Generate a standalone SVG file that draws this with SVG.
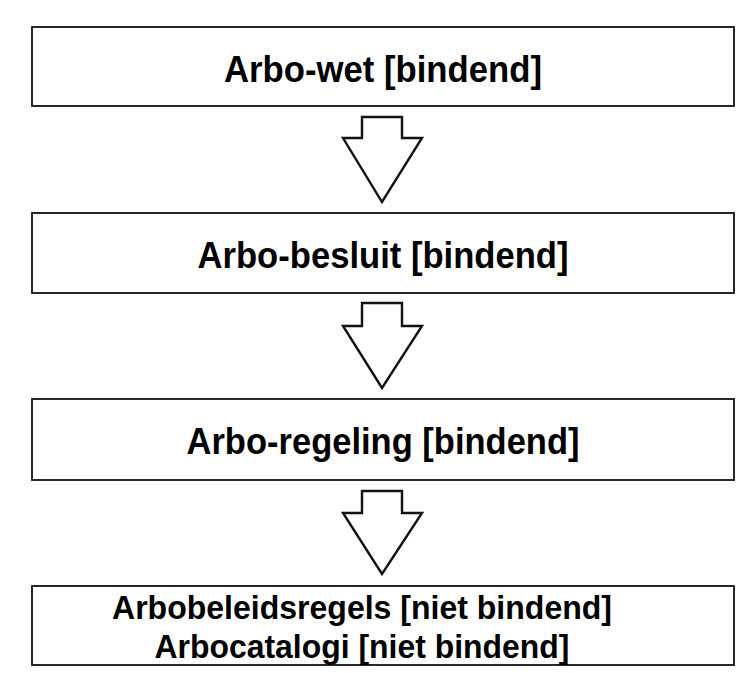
<svg xmlns="http://www.w3.org/2000/svg" width="739" height="673" viewBox="0 0 739 673">
<style>
.box{fill:#fff;stroke:#111;stroke-width:1.8}
.arr{fill:#fff;stroke:#111;stroke-width:2.4;stroke-linejoin:miter}
.t{font-family:"Liberation Sans",Arial,Helvetica,sans-serif;font-weight:bold;fill:#000;text-anchor:middle}
</style>
<rect width="739" height="673" fill="#fff"/>
<g id="n1"><rect class="box" x="32" y="27" width="702" height="79"/><text class="t" x="383" y="82" font-size="36.5" textLength="318" lengthAdjust="spacingAndGlyphs">Arbo-wet [bindend]</text></g>
<g id="n2"><rect class="box" x="32" y="213" width="702" height="80"/><text class="t" x="383" y="268" font-size="36.5" textLength="371" lengthAdjust="spacingAndGlyphs">Arbo-besluit [bindend]</text></g>
<g id="n3"><rect class="box" x="32" y="399" width="702" height="81"/><text class="t" x="383" y="454" font-size="36.5" textLength="393" lengthAdjust="spacingAndGlyphs">Arbo-regeling [bindend]</text></g>
<g id="n4"><rect class="box" x="32" y="586" width="702" height="79"/><text class="t" x="362" y="619" font-size="34" textLength="500" lengthAdjust="spacingAndGlyphs">Arbobeleidsregels [niet bindend]</text><text class="t" x="362" y="658" font-size="34" textLength="415" lengthAdjust="spacingAndGlyphs">Arbocatalogi [niet bindend]</text></g>
<g id="connectors">
<path class="arr" d="M362,117 H402 V138 H422 L382,202 L343,138 H362 Z"/>
<path class="arr" d="M362,303 H402 V326 H422 L382,388 L343,326 H362 Z"/>
<path class="arr" d="M362,491 H402 V513 H422 L382,574 L343,513 H362 Z"/>
</g>
</svg>
